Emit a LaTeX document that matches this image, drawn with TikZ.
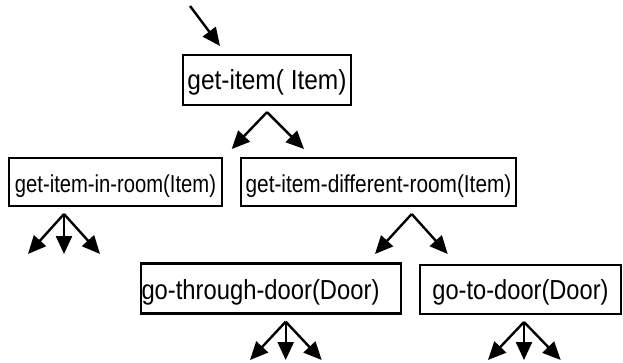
\documentclass[tikz,border=0pt]{standalone}
\usepackage{graphicx}
\usepackage{fontspec}
\setmainfont{Liberation Sans}
\usetikzlibrary{arrows.meta}
\newcommand{\squeeze}[2]{\scalebox{#1}[1]{#2}}
\begin{document}
\begin{tikzpicture}[x=1pt,y=-1pt,
  goalbox/.style={draw=black, line width=2.3pt, inner sep=0pt, text depth=0pt},
  bigtext/.style={font=\fontsize{27.5}{30}\selectfont},
  midtext/.style={font=\fontsize{24.5}{27}\selectfont},
  arr/.style={draw=black, line width=2.4pt, -{Triangle[length=18pt,width=16pt]}}
]
\useasboundingbox (0,0) rectangle (623,362);

% boxes
\node[goalbox, bigtext, text height=18.6pt, minimum width=168pt, minimum height=50pt] (gi) at (267,80) {\squeeze{0.89}{get-item( Item)}};
\node[goalbox, midtext, text height=21.4pt, minimum width=213pt, minimum height=48pt] (gir) at (115.5,182) {\squeeze{0.825}{get-item-in-room(Item)}};
\node[goalbox, midtext, text height=21.4pt, minimum width=275pt, minimum height=48pt] (gdr) at (378.5,182) {\squeeze{0.85}{get-item-different-room(Item)}};
\node[goalbox, bigtext, text height=22pt, minimum width=260pt, minimum height=50pt] (gtd) at (271,288.5) {\squeeze{0.865}{go-through-door(Door)}\hspace*{21pt}};
\node[goalbox, bigtext, text height=20.4pt, minimum width=201pt, minimum height=49pt] (gto) at (520.5,289.5) {\squeeze{0.86}{go-to-door(Door)}};

% entry arrow
\coordinate (start) at (190,6);
\coordinate (gi-in) at (220,46);
\draw[arr] (start) -- (gi-in);

% get-item branches
\coordinate (gi-apex) at ([yshift=-6pt]gi.south);
\coordinate (gir-in) at (231.7,149);
\coordinate (gdr-in) at (304,149);
\draw[arr] (gi-apex) -- (gir-in);
\draw[arr] (gi-apex) -- (gdr-in);

% get-item-in-room branches
\coordinate (gir-apex) at (64,214);
\coordinate (gir-l) at (28,254);
\coordinate (gir-m) at (64,254);
\coordinate (gir-r) at (100,254);
\draw[arr] (gir-apex) -- (gir-l);
\draw[arr] (gir-apex) -- (gir-m);
\draw[arr] (gir-apex) -- (gir-r);

% get-item-different-room branches
\coordinate (gdr-apex) at (411.7,214);
\coordinate (gtd-in) at (375,254);
\coordinate (gto-in) at (447.7,254);
\draw[arr] (gdr-apex) -- (gtd-in);
\draw[arr] (gdr-apex) -- (gto-in);

% go-through-door branches
\coordinate (gtd-apex) at (285.7,321.7);
\coordinate (gtd-l) at (250,360);
\coordinate (gtd-m) at (285.7,360);
\coordinate (gtd-r) at (321.7,360);
\draw[arr] (gtd-apex) -- (gtd-l);
\draw[arr] (gtd-apex) -- (gtd-m);
\draw[arr] (gtd-apex) -- (gtd-r);

% go-to-door branches
\coordinate (gto-apex) at (524,322);
\coordinate (gto-l) at (488,360);
\coordinate (gto-m) at (524,360);
\coordinate (gto-r) at (560.7,360);
\draw[arr] (gto-apex) -- (gto-l);
\draw[arr] (gto-apex) -- (gto-m);
\draw[arr] (gto-apex) -- (gto-r);
\end{tikzpicture}
\end{document}
